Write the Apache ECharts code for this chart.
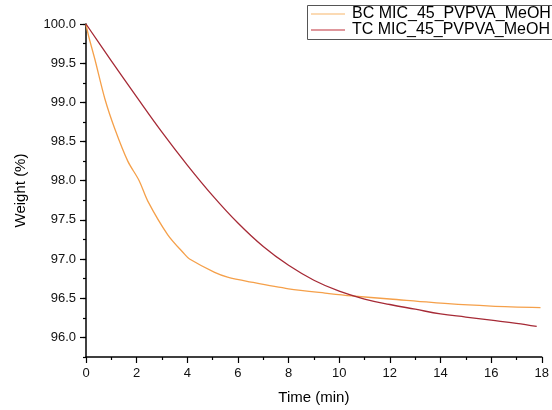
<!DOCTYPE html>
<html>
<head>
<meta charset="utf-8">
<style>
  html, body { margin: 0; padding: 0; background: #fff; }
  #chart { width: 552px; height: 410px; }
</style>
</head>
<body>
<div id="chart"></div>
<script src="https://cdn.jsdelivr.net/npm/echarts@6/dist/echarts.min.js"></script>
<script>
// --- data ---
var seriesNames = ['BC MIC_45_PVPVA_MeOH', 'TC MIC_45_PVPVA_MeOH'];

var bcTime   = [0, 0.1, 0.35, 0.75, 1.14, 1.65, 2.1, 2.44, 3.23, 3.9, 4.09, 5.08, 5.59, 6.46, 8, 9.6, 10.5, 12, 14.3, 16, 17.95];
var bcWeight = [100, 99.85, 99.55, 99.04, 98.66, 98.25, 98.0, 97.74, 97.31, 97.06, 97.0, 96.83, 96.77, 96.71, 96.62, 96.56, 96.53, 96.49, 96.43, 96.40, 96.38];

var tcTime   = [0, 1, 2, 3, 4, 5, 6, 7, 8, 9, 10, 11, 12, 13, 14, 15, 16, 17, 17.8];
var tcWeight = [100, 99.53, 99.07, 98.62, 98.20, 97.81, 97.46, 97.16, 96.92, 96.73, 96.59, 96.49, 96.42, 96.36, 96.30, 96.26, 96.22, 96.18, 96.14];

var yTicks = [96.0, 96.5, 97.0, 97.5, 98.0, 98.5, 99.0, 99.5, 100.0];

function pairs(xs, ys) {
  var out = [];
  for (var i = 0; i < xs.length; i++) out.push([xs[i], ys[i]]);
  return out;
}

var font = 'Liberation Sans, Arial, sans-serif';
var axisCol = '#000';

var myChart = echarts.init(document.getElementById('chart'), null, { renderer: 'canvas' });

var option = {
  backgroundColor: '#fff',
  animation: false,
  // legend frame drawn by hand so it can run off the right edge like the original
  graphic: [{
    type: 'rect',
    z: 3,
    shape: { x: 307.5, y: 5.5, width: 300, height: 34 },
    style: { fill: '#fff', stroke: '#555', lineWidth: 1 }
  }],
  legend: {
    orient: 'vertical',
    left: 307,
    top: 5,
    z: 5,
    padding: [1, 4, 1, 4],
    itemGap: 0,
    itemWidth: 34,
    itemHeight: 14,
    data: seriesNames.map(function (n) { return { name: n, icon: 'path://M0,7L34,7L34,8L0,8Z' }; }),
    textStyle: { fontFamily: font, fontSize: 16, color: '#000', padding: [0, 0, 0, 2] }
  },
  grid: { left: 86, right: 9, top: 24, bottom: 49, containLabel: false },
  xAxis: {
    type: 'value',
    min: 0, max: 18, interval: 2,
    name: 'Time (min)',
    nameLocation: 'middle',
    nameGap: 33,
    nameTextStyle: { fontFamily: font, fontSize: 15, color: '#000' },
    axisLine: { show: true, lineStyle: { color: axisCol, width: 1.5 } },
    axisTick: { show: true, inside: false, length: 6, lineStyle: { color: axisCol, width: 1.2 } },
    minorTick: { show: true, splitNumber: 2, length: 3, lineStyle: { color: axisCol, width: 1.2 } },
    axisLabel: { fontFamily: font, fontSize: 13, color: '#111', margin: 10 },
    splitLine: { show: false }
  },
  yAxis: [
    {
      // minor ticks every 0.25 + axis line
      type: 'value',
      min: 95.75, max: 100, interval: 0.25,
      axisLine: { show: true, onZero: false, lineStyle: { color: axisCol, width: 1.5 } },
      axisTick: { show: true, length: 3, lineStyle: { color: axisCol, width: 1.2 } },
      axisLabel: { show: false },
      splitLine: { show: false }
    },
    {
      // major ticks + labels every 0.5
      type: 'value',
      position: 'left',
      min: 95.75, max: 100,
      name: 'Weight (%)',
      nameLocation: 'middle',
      nameGap: 58,
      nameTextStyle: { fontFamily: font, fontSize: 15, color: '#000' },
      axisLine: { show: false, onZero: false },
      axisTick: { show: true, length: 6, customValues: yTicks, lineStyle: { color: axisCol, width: 1.2 } },
      axisLabel: {
        fontFamily: font, fontSize: 13, color: '#111', margin: 10,
        customValues: yTicks,
        formatter: function (v) { return v.toFixed(1); }
      },
      splitLine: { show: false }
    }
  ],
  series: [
    {
      name: seriesNames[0],
      type: 'line',
      yAxisIndex: 0,
      data: pairs(bcTime, bcWeight),
      smooth: 0.3,
      showSymbol: false,
      color: '#f7b56a',
      lineStyle: { color: '#f5a04a', width: 1.3 }
    },
    {
      name: seriesNames[1],
      type: 'line',
      yAxisIndex: 0,
      data: pairs(tcTime, tcWeight),
      smooth: 0.4,
      showSymbol: false,
      color: '#c0303a',
      lineStyle: { color: '#a62a36', width: 1.3 }
    }
  ]
};

myChart.setOption(option);
</script>
</body>
</html>
